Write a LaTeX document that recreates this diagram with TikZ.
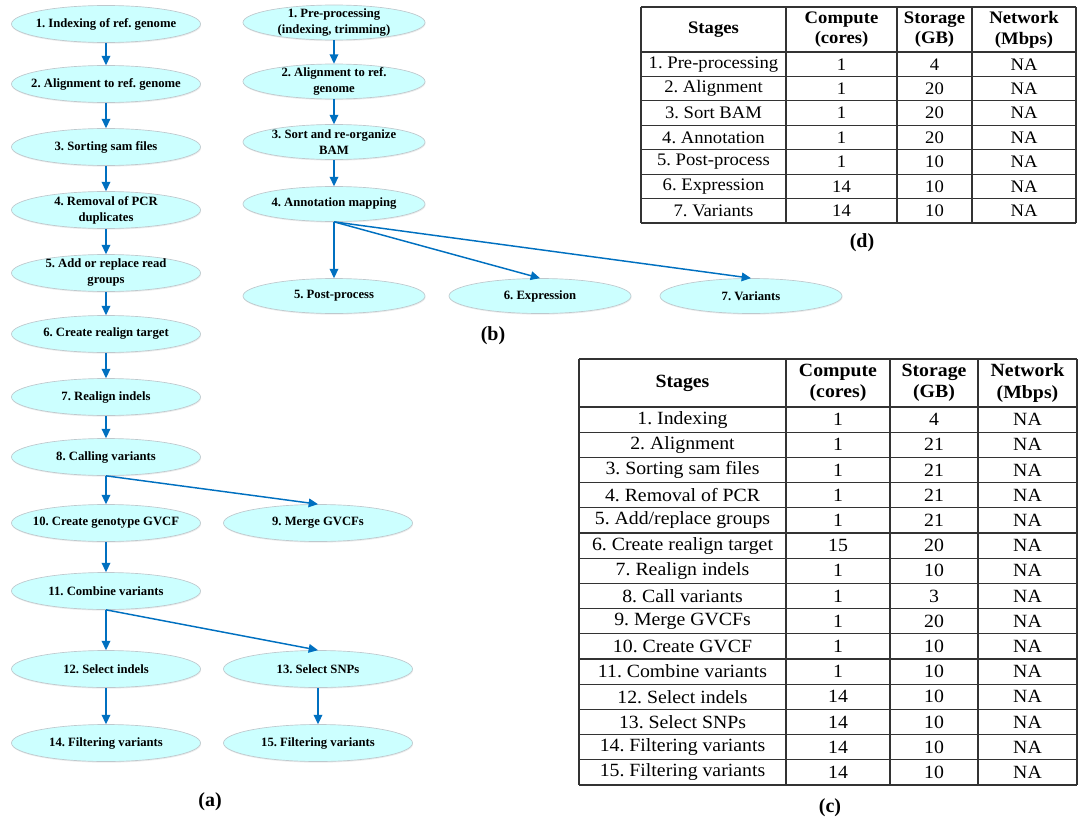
\documentclass[tikz,border=0pt]{standalone}
\usepackage{fontspec}
\setmainfont{Liberation Serif}
\newfontfamily\tabfont[FakeStretch=1.06]{Liberation Serif}
\usetikzlibrary{shapes.geometric,arrows.meta,shadows}
\definecolor{arrowblue}{RGB}{0,112,192}
\definecolor{stagefill}{RGB}{204,255,255}
\definecolor{stageline}{RGB}{190,200,205}
\frenchspacing

\begin{document}
\begin{tikzpicture}[x=0.75pt,y=-0.75pt,
  stage/.style={ellipse, draw=stageline, line width=0.5pt, fill=stagefill,
    minimum width=141.75pt, minimum height=27.75pt, inner xsep=-20pt, inner ysep=-4pt,
    align=center, font=\fontsize{9.5}{12}\selectfont\bfseries,
    drop shadow={opacity=0.15, shadow xshift=0.4pt, shadow yshift=-0.9pt}},
  stageb/.style={stage, minimum width=136.5pt, minimum height=26.25pt},
  flow/.style={draw=arrowblue, line width=1.1pt, -{Triangle[length=7pt,width=6.5pt]}},
  caption/.style={font=\fontsize{15}{18}\selectfont\bfseries, inner sep=0pt},
  cell/.style={font=\tabfont\fontsize{14}{16}\selectfont, inner sep=0pt, align=center},
  head/.style={cell, font=\tabfont\fontsize{14}{16}\selectfont\bfseries},
  dcell/.style={cell, font=\tabfont\fontsize{13.2}{15.5}\selectfont},
  dhead/.style={cell, font=\tabfont\fontsize{13.2}{15.5}\selectfont\bfseries},
  grid/.style={draw=black!80, line width=0.8pt}
]
\useasboundingbox (0,0) rectangle (1078,824);

% ---------- workflow (a) ----------
\node[stage] (a1)  at (106,24)  {1. Indexing of ref. genome};
\node[stage] (a2)  at (106,84)  {2. Alignment to ref. genome};
\node[stage] (a3)  at (106,147) {3. Sorting sam files};
\node[stage] (a4)  at (106,210) {4. Removal of PCR\\duplicates};
\node[stage] (a5)  at (106,273) {5. Add or replace read\\groups};
\node[stage] (a6)  at (106,334) {6. Create realign target};
\node[stage] (a7)  at (106,397) {7. Realign indels};
\node[stage] (a8)  at (106,457) {8. Calling variants};
\node[stage] (a10) at (106,523) {10. Create genotype GVCF};
\node[stage] (a9)  at (318,523) {9. Merge GVCFs};
\node[stage] (a11) at (106,591) {11. Combine variants};
\node[stage] (a12) at (106,669) {12. Select indels};
\node[stage] (a13) at (318,669) {13. Select SNPs};
\node[stage] (a14) at (106,743) {14. Filtering variants};
\node[stage] (a15) at (318,743) {15. Filtering variants};

\foreach \u/\v in {a1/a2,a2/a3,a3/a4,a4/a5,a5/a6,a6/a7,a7/a8,a8/a10,a8/a9,
                   a10/a11,a11/a12,a11/a13,a12/a14,a13/a15}
  \draw[flow] (\u.south) -- (\v.north);

\node[caption] (capa) at (210,802) {(a)};

% ---------- workflow (b) ----------
\node[stageb] (b1) at (334,22.5) {1. Pre-processing\\(indexing, trimming)};
\node[stageb] (b2) at (334,81.5) {2. Alignment to ref.\\genome};
\node[stageb] (b3) at (334,142)  {3. Sort and re-organize\\BAM};
\node[stageb] (b4) at (334,204)  {4. Annotation mapping};
\node[stageb] (b5) at (334,296)  {5. Post-process};
\node[stageb] (b6) at (540,296)  {6. Expression};
\node[stageb] (b7) at (751,296)  {7. Variants};

\foreach \u/\v in {b1/b2,b2/b3,b3/b4,b4/b5,b4/b6,b4/b7}
  \draw[flow] (\u.south) -- (\v.north);

\node[caption] (capb) at (493,336) {(b)};

% ---------- resource table (d) ----------
\foreach \x in {641,786,897,972,1076}
  \draw[grid] (\x,7) -- (\x,223);
\draw[grid] (641,7) -- (1076,7);
\foreach \i in {0,...,7}
  \draw[grid] (641,52+24.43*\i) -- (1076,52+24.43*\i);
\node[dhead] (dh1) at (713.5,29.5) {Stages};
\node[dhead] (dh2) at (841.5,29.5) {Compute\\(cores)};
\node[dhead] (dh3) at (934.5,29.5) {Storage\\(GB)};
\node[dhead] (dh4) at (1024,29.5)  {Network\\(Mbps)};
\foreach \s/\p/\q/\r [count=\i] in {
    1. Pre-processing/1/4/NA, 2. Alignment/1/20/NA, 3. Sort BAM/1/20/NA,
    4. Annotation/1/20/NA, 5. Post-process/1/10/NA, 6. Expression/14/10/NA,
    7. Variants/14/10/NA} {
  \node[dcell] (d\i s) at (713.5,52+24.43*\i-12.2) {\s};
  \node[dcell] (d\i c) at (841.5,52+24.43*\i-12.2) {\p};
  \node[dcell] (d\i g) at (934.5,52+24.43*\i-12.2) {\q};
  \node[dcell] (d\i n) at (1024,52+24.43*\i-12.2)  {\r};
}
\node[caption] (capd) at (862,243) {(d)};

% ---------- resource table (c) ----------
\foreach \x in {579,786,890,978,1077}
  \draw[grid] (\x,359) -- (\x,785);
\draw[grid] (579,359) -- (1077,359);
\foreach \i in {0,...,15}
  \draw[grid] (579,407+25.2*\i) -- (1077,407+25.2*\i);
\node[head] (ch1) at (682.5,383) {Stages};
\node[head] (ch2) at (838,383)   {Compute\\(cores)};
\node[head] (ch3) at (934,383)   {Storage\\(GB)};
\node[head] (ch4) at (1027.5,383){Network\\(Mbps)};
\foreach \s/\p/\q/\r [count=\i] in {
    1. Indexing/1/4/NA, 2. Alignment/1/21/NA, 3. Sorting sam files/1/21/NA,
    4. Removal of PCR/1/21/NA, 5. Add\slash replace groups/1/21/NA,
    6. Create realign target/15/20/NA, 7. Realign indels/1/10/NA,
    8. Call variants/1/3/NA, 9. Merge GVCFs/1/20/NA, 10. Create GVCF/1/10/NA,
    11. Combine variants/1/10/NA, 12. Select indels/14/10/NA,
    13. Select SNPs/14/10/NA, 14. Filtering variants/14/10/NA,
    15. Filtering variants/14/10/NA} {
  \node[cell] (c\i s) at (682.5,407+25.2*\i-12.6) {\s};
  \node[cell] (c\i c) at (838,407+25.2*\i-12.6)   {\p};
  \node[cell] (c\i g) at (934,407+25.2*\i-12.6)   {\q};
  \node[cell] (c\i n) at (1027.5,407+25.2*\i-12.6){\r};
}
\node[caption] (capc) at (830,808) {(c)};

\end{tikzpicture}
\end{document}
